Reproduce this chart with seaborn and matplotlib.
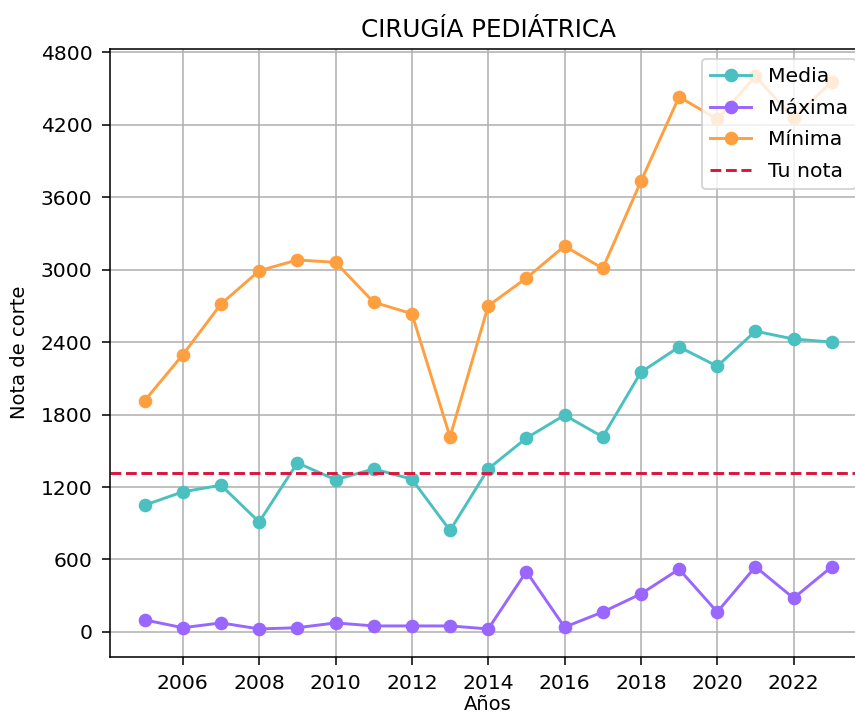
import pandas as pd
import seaborn as sns
import matplotlib.pyplot as plt
from matplotlib.lines import Line2D

# Values
years = list(range(2005, 2024))
media = [1050, 1160, 1215, 910, 1400, 1260, 1350, 1265, 840, 1350,
         1605, 1795, 1615, 2150, 2360, 2200, 2490, 2425, 2400]
maxima = [100, 35, 75, 25, 35, 75, 50, 50, 50, 25,
          500, 40, 165, 315, 520, 165, 540, 280, 540]
minima = [1915, 2295, 2715, 2990, 3080, 3060, 2730, 2635, 1615, 2700,
          2930, 3195, 3010, 3730, 4430, 4245, 4600, 4255, 4555]
tu_nota = 1320
y_ticks = list(range(0, 4801, 600))
x_ticks = list(range(2006, 2023, 2))

series_names = ['Media', 'Máxima', 'Mínima']
colors = ['#4bc0c0', '#9966ff', '#ff9f40']

df = pd.DataFrame({
    'Año': years * 3,
    'Nota': media + maxima + minima,
    'Serie': [s for s in series_names for _ in years],
})

DPI = 140
fig = plt.figure(figsize=(855 / DPI, 716 / DPI), dpi=DPI)
# the reference is cropped: the axes run a little past the right edge
ax = fig.add_axes([0.129, 0.083, 0.884, 0.849])

sns.lineplot(data=df, x='Año', y='Nota', hue='Serie', hue_order=series_names,
             palette=colors, marker='o', markersize=6, markeredgewidth=1,
             linewidth=1.5, ax=ax)
ax.axhline(tu_nota, color='crimson', linestyle='--', linewidth=1.5, label='Tu nota')

# plain matplotlib look: marker edges in the line colour
for line in ax.lines:
    line.set_markeredgecolor(line.get_color())

ax.set_yticks(y_ticks)
ax.set_xticks(x_ticks)
ax.tick_params(length=4.2, pad=5, labelsize=10.4)
ax.grid(True, color='#b0b0b0', linewidth=0.8)
ax.set_axisbelow(True)

ax.set_title('CIRUGÍA PEDIÁTRICA', fontsize=12.7)
ax.set_xlabel('Años', labelpad=1)
ax.set_ylabel('Nota de corte', labelpad=6)

handles, labels = ax.get_legend_handles_labels()
for h in handles:
    if isinstance(h, Line2D):
        h.set_markeredgecolor(h.get_color())
ax.legend(handles, labels, loc='upper right', fontsize=10.5, labelspacing=0.62)

plt.savefig('out.png', dpi=DPI)
plt.close()
